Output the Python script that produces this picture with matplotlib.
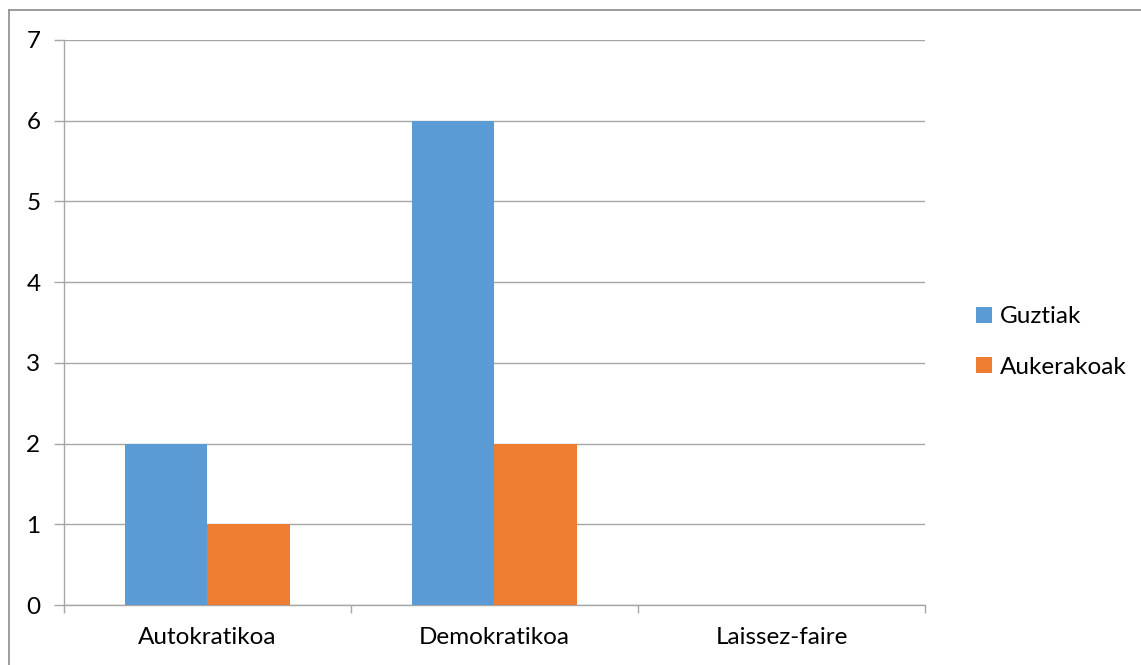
import matplotlib.pyplot as plt
import numpy as np
from matplotlib.lines import Line2D
from matplotlib.patches import Patch

# ── Data ──────────────────────────────────────────────────────────────────────
categories = ["Autokratikoa", "Demokratikoa", "Laissez-faire"]
guztiak = [2, 6, 0]
aukerakoak = [1, 2, 0]
series_names = ["Guztiak", "Aukerakoak"]
series_colors = ["#5B9BD5", "#ED7D31"]

GRID = "#A6A6A6"
FONT = "Lato"
FS = 17.5

fig = plt.figure(figsize=(11.41, 6.65), dpi=100)
fig.patch.set_facecolor("white")

# outer chart frame (top and left edges visible)
fig.add_artist(Line2D([9 / 1141, 1.0], [1 - 10 / 665] * 2, color="#8C8C8C", lw=1.2))
fig.add_artist(Line2D([9 / 1141] * 2, [0.0, 1 - 10 / 665], color="#8C8C8C", lw=1.2))

ax = fig.add_axes([64 / 1141, 60 / 665, 861 / 1141, 565 / 665])

x = np.arange(len(categories))
w = 0.286
ax.bar(x - w / 2, guztiak, w, color=series_colors[0], zorder=3)
ax.bar(x + w / 2, aukerakoak, w, color=series_colors[1], zorder=3)

ax.set_xlim(-0.5, len(categories) - 0.5)
ax.set_ylim(0, 7)
ax.set_yticks(range(0, 8))
ax.yaxis.grid(True, color=GRID, lw=1.0, zorder=0)
ax.set_axisbelow(True)

# category boundary ticks
ax.set_xticks(np.arange(-0.5, len(categories), 1.0))
ax.set_xticklabels([])
ax.set_xticks(x, minor=True)
ax.set_xticklabels(categories, minor=True, fontsize=FS, family=FONT)
ax.tick_params(axis="x", which="minor", length=0, pad=16)
ax.tick_params(axis="x", which="major", length=6, color=GRID, width=1.0)
ax.tick_params(axis="y", length=7, color=GRID, width=1.0, pad=10, labelsize=FS)
for lab in ax.get_yticklabels():
    lab.set_family(FONT)

for side in ("top", "right"):
    ax.spines[side].set_visible(False)
for side in ("left", "bottom"):
    ax.spines[side].set_color(GRID)
    ax.spines[side].set_linewidth(1.0)

handles = [Patch(facecolor=c, label=n) for c, n in zip(series_colors, series_names)]
fig.legend(
    handles=handles,
    loc="center left",
    bbox_to_anchor=(954 / 1141, 1 - 342 / 665),
    frameon=False,
    prop={"family": FONT, "size": FS},
    handlelength=0.65,
    handleheight=0.65,
    handletextpad=0.35,
    labelspacing=1.2,
)

fig.savefig("out.png", dpi=100)
